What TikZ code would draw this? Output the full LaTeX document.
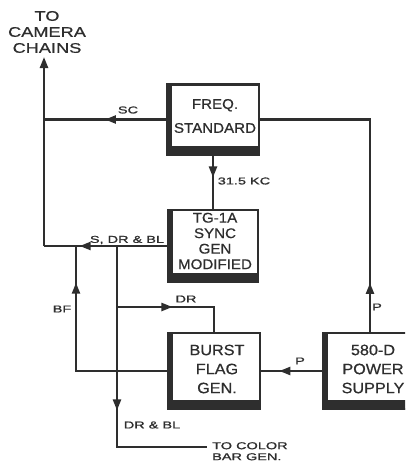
\documentclass[tikz,border=0pt]{standalone}
\usepackage{fontspec}
\setmainfont{Liberation Sans}
\newfontfamily\boxfont[FakeStretch=1.08,FakeBold=0.6]{Liberation Sans}
\newfontfamily\labfont[FakeStretch=1.45,FakeBold=1]{Liberation Sans}
\newfontfamily\camfont[FakeStretch=1.3,FakeBold=0.6]{Liberation Sans}
\usetikzlibrary{arrows.meta,decorations.markings}
\definecolor{ink}{HTML}{2E2E2E}
\begin{document}
\begin{tikzpicture}[x=1pt,y=-1pt,
  blk/.style={draw=ink,line width=2.2pt,fill=white,inner sep=0pt},
  btxt/.style={text=ink,align=center,inner sep=0pt,font=\boxfont\fontsize{15}{15}\selectfont},
  conn/.style={draw=ink,line width=2.3pt,line join=miter},
  am/.style={postaction={decorate,decoration={markings,
    mark=at position #1 with {\arrow{Triangle[length=11pt,width=8pt]}}}}},
  lab/.style={text=ink,inner sep=0pt,font=\labfont\fontsize{10}{12}\selectfont},
  big/.style={text=ink,inner sep=0pt,align=center,font=\camfont\fontsize{14}{16}\selectfont}]
\useasboundingbox (0,0) rectangle (405,463);
\clip (0,0) rectangle (405,463);
\fill[white] (0,0) rectangle (405,463);

% blocks
\node[blk,minimum width=92pt,minimum height=70pt] (freq) at (213,119.5) {};
\node[blk,minimum width=90pt,minimum height=72pt] (tg) at (213,246) {};
\node[blk,minimum width=92pt,minimum height=76pt] (burst) at (214,371) {};
\node[blk,minimum width=94pt,minimum height=76pt] (power) at (370,371) {};
\foreach \n in {freq,tg,burst,power}{
  \fill[ink] (\n.south west) rectangle ([xshift=6pt]\n.north west);
  \fill[ink] (\n.south west) rectangle ([yshift=10pt]\n.south east);
}
\node[btxt,font=\boxfont\fontsize{14}{15}\selectfont] (freqt) at (215,116) {FREQ.\\[9pt]STANDARD};
\node[btxt,font=\boxfont\fontsize{14}{15.5}\selectfont] (tgt) at (215,241) {TG-1A\\SYNC\\GEN\\MODIFIED};
\node[btxt] (burstt) at (217,369) {BURST\\[4pt]FLAG\\[4pt]GEN.};
\node[btxt] (powert) at (373,369) {580-D\\[4pt]POWER\\[4pt]SUPPLY};

% junctions and free ends
\coordinate (jSC) at (44,119.5);
\coordinate (jS) at (44,246);
\coordinate (cam) at (44,57);
\coordinate (jBF) at (76,246);
\coordinate (jDR) at (117,246);
\coordinate (jDR2) at (117,307);
\coordinate (cbar) at (207,447);

% connectors
\draw[conn,am=0.50] (freq.west) -- (jSC);
\draw[conn,-{Triangle[length=11pt,width=8pt]}] (jS) -- (cam);
\draw[conn,am=0.152] (power.north) |- (freq.east);
\draw[conn,am=0.41] (freq.south) -- (tg.north);
\draw[conn,am=0.71] (tg.west) -- (jS);
\draw[conn,am=0.83] (burst.west) -| (jBF);
\draw[conn,am=0.565] (jDR) |- (cbar);
\draw[conn,am=0.455] (jDR2) -| (burst.north);
\draw[conn,am=0.70] (power.west) -- (burst.east);

% labels
\node[lab] (lsc) at (128,110) {SC};
\node[lab] (lkc) at (244,181) {31.5 KC};
\node[lab] (ls) at (127,240) {S, DR \& BL};
\node[lab] (ldr) at (186,299) {DR};
\node[lab] (lbf) at (62,309) {BF};
\node[lab] (lp1) at (377,307) {P};
\node[lab] (lp2) at (300,361) {P};
\node[lab] (ldrbl) at (152,425) {DR \& BL};
\node[lab,align=left,anchor=north west,font=\labfont\fontsize{10}{11}\selectfont] (lcb) at (212,442) {TO COLOR\\BAR GEN.};
\node[big] (lcam) at (47,32) {TO\\CAMERA\\CHAINS};
\end{tikzpicture}
\end{document}
